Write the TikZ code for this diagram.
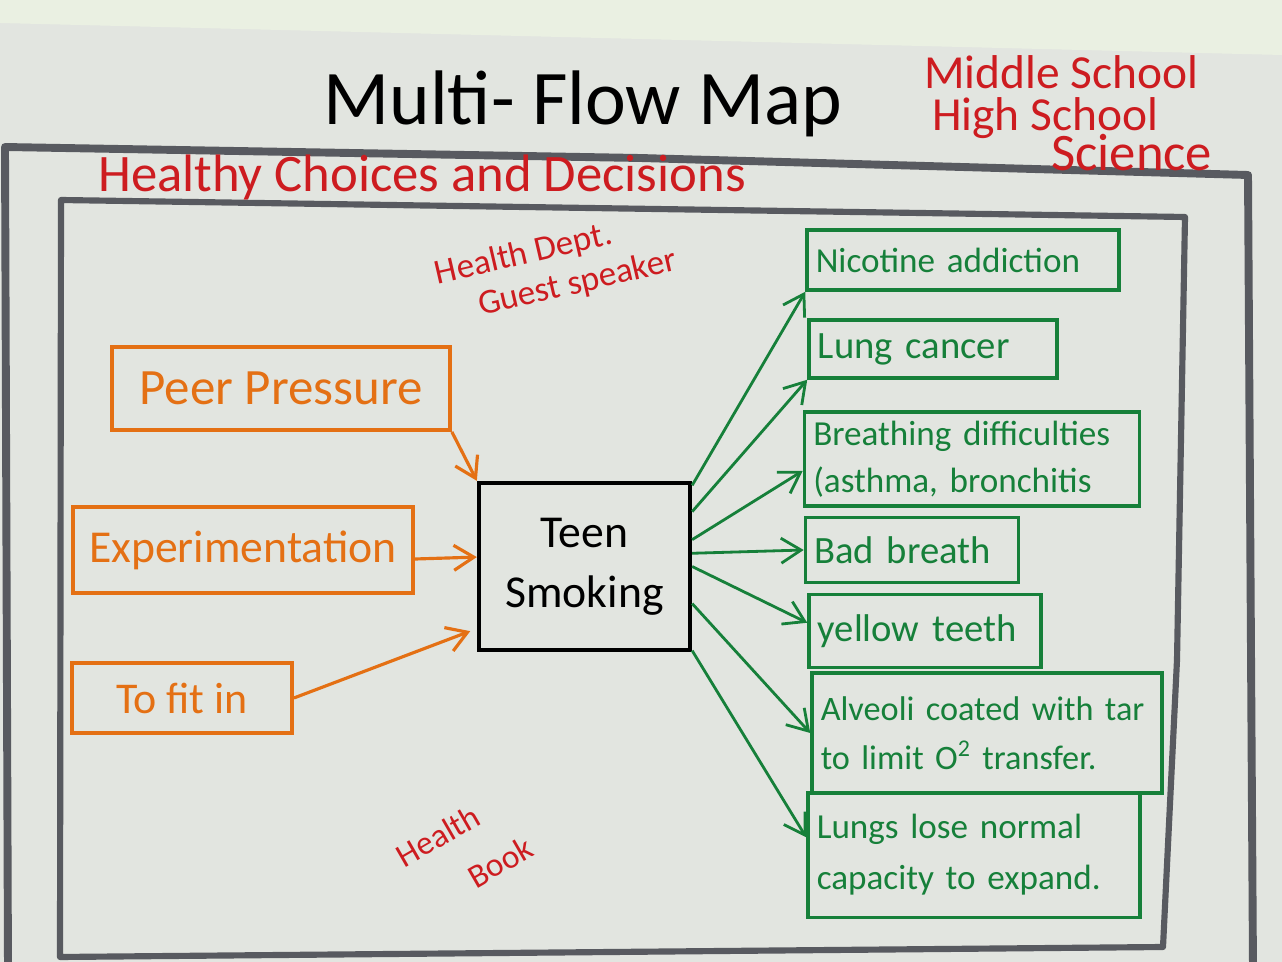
\documentclass[tikz,border=0pt]{standalone}
\usepackage{fontspec}
\setmainfont{Carlito}
\usetikzlibrary{arrows.meta}
\definecolor{penOrange}{RGB}{228,112,20}
\definecolor{penGreen}{RGB}{22,128,58}
\definecolor{penRed}{RGB}{205,28,32}
\definecolor{penGray}{RGB}{88,90,96}
\definecolor{paper}{RGB}{226,229,224}
\definecolor{wall}{RGB}{234,240,226}

\begin{document}
\begin{tikzpicture}[x=0.02cm, y=-0.02cm,
  cause/.style={draw=penOrange, text=penOrange, line width=2.2pt, inner sep=5pt, font=\fontsize{26}{30}\selectfont},
  effect/.style={draw=penGreen, text=penGreen, line width=2pt, inner sep=5pt, align=left, font=\fontsize{20}{27}\selectfont},
  note/.style={text=penRed, align=left},
  frame/.style={draw=penGray, line width=4.5pt, line cap=round, line join=round},
  >={Straight Barb[length=4mm,width=5mm]}]
\useasboundingbox (0,0) rectangle (1282,962);
\clip (0,0) rectangle (1282,962);
\fill[paper] (0,0) rectangle (1282,962);
\fill[wall] (0,0) -- (1282,0) -- (1282,55) -- (0,23) -- cycle;

% frames
\draw[frame] (8,970) -- (5,147) -- (640,158) -- (1248,175) -- (1253,970);
\draw[frame, line width=3.5pt] (61,200) -- (1185,217) -- (1177,660) -- (1163,947) -- (60,957) -- cycle;

% headings
\node[font=\fontsize{44}{50}\selectfont] (title) at (583,104) {Multi- Flow Map};
\node[note, anchor=west, font=\fontsize{27}{30}\selectfont] (middle) at (918,72) {Middle School};
\node[note, anchor=west, font=\fontsize{27}{30}\selectfont] (high) at (926,118) {High School};
\node[note, anchor=west, font=\fontsize{30}{30}\selectfont] (science) at (1045,153) {Science};
\node[note, anchor=west, font=\fontsize{30}{32}\selectfont] (topic) at (92,177) {Healthy Choices and Decisions};

\node[note, rotate=13, font=\fontsize{20}{23}\selectfont] (speaker) at (556,268) {Health Dept.\\\hspace*{1em}Guest speaker};
\node[note, rotate=30, font=\fontsize{19}{20}\selectfont] (health) at (438,836) {Health};
\node[note, rotate=30, font=\fontsize{19}{20}\selectfont] (bookword) at (500,862) {Book};

% event
\node[draw, line width=2.5pt, minimum width=4.22cm, minimum height=3.34cm, align=center, font=\fontsize{26}{34}\selectfont] (teen) at (584.5,566.5) {Teen\\Smoking};

% causes
\node[cause, minimum width=6.76cm, minimum height=1.66cm, font=\fontsize{29}{32}\selectfont] (peer) at (281,388.5) {Peer Pressure};
\node[cause, minimum width=6.8cm, minimum height=1.72cm] (exper) at (243,550) {Experimentation};
\node[cause, minimum width=4.4cm, minimum height=1.4cm, font=\fontsize{25}{28}\selectfont] (fit) at (182,698) {To fit in};

% effects
\node[effect, text width=5.89cm, minimum height=1.2cm] (nic) at (963,260) {Nicotine addiction};
\node[effect, text width=4.61cm, minimum height=1.16cm, font=\fontsize{22}{26}\selectfont] (lung) at (933,349) {Lung cancer};
\node[effect, text width=6.35cm, minimum height=1.64cm] (breath) at (972,459) {Breathing difficulties\\(asthma, bronchitis};
\node[effect, text width=3.91cm, minimum height=1.3cm, font=\fontsize{22}{26}\selectfont] (bad) at (912,550) {Bad breath};
\node[effect, text width=4.29cm, minimum height=1.46cm, font=\fontsize{22}{26}\selectfont] (yellow) at (925,631) {yellow teeth};
\node[effect, text width=6.65cm, minimum height=2.4cm, font=\fontsize{19.5}{28}\selectfont] (alv) at (987,733) {Alveoli coated with tar\\to limit O\textsuperscript{2} transfer.};
\node[effect, text width=6.29cm, minimum height=2.5cm, font=\fontsize{20}{29}\selectfont] (lungs) at (974,855) {Lungs lose normal\\capacity to expand.};

% arrows
\draw[->, penOrange, line width=1.8pt] (peer.south east) -- (teen.north west);
\draw[->, penOrange, line width=1.8pt] (exper.357) -- (teen.175);
\draw[->, penOrange, line width=1.8pt, shorten >=4pt] (fit.east) -- (teen.210);
\foreach \s/\t in {37/nic.south west, 27/lung.south west, 14/breath.184, 7/bad.west, 0/yellow.176, 341/alv.west, 322/lungs.174}
  \draw[->, penGreen, line width=1.6pt] (teen.\s) -- (\t);
\end{tikzpicture}
\end{document}
